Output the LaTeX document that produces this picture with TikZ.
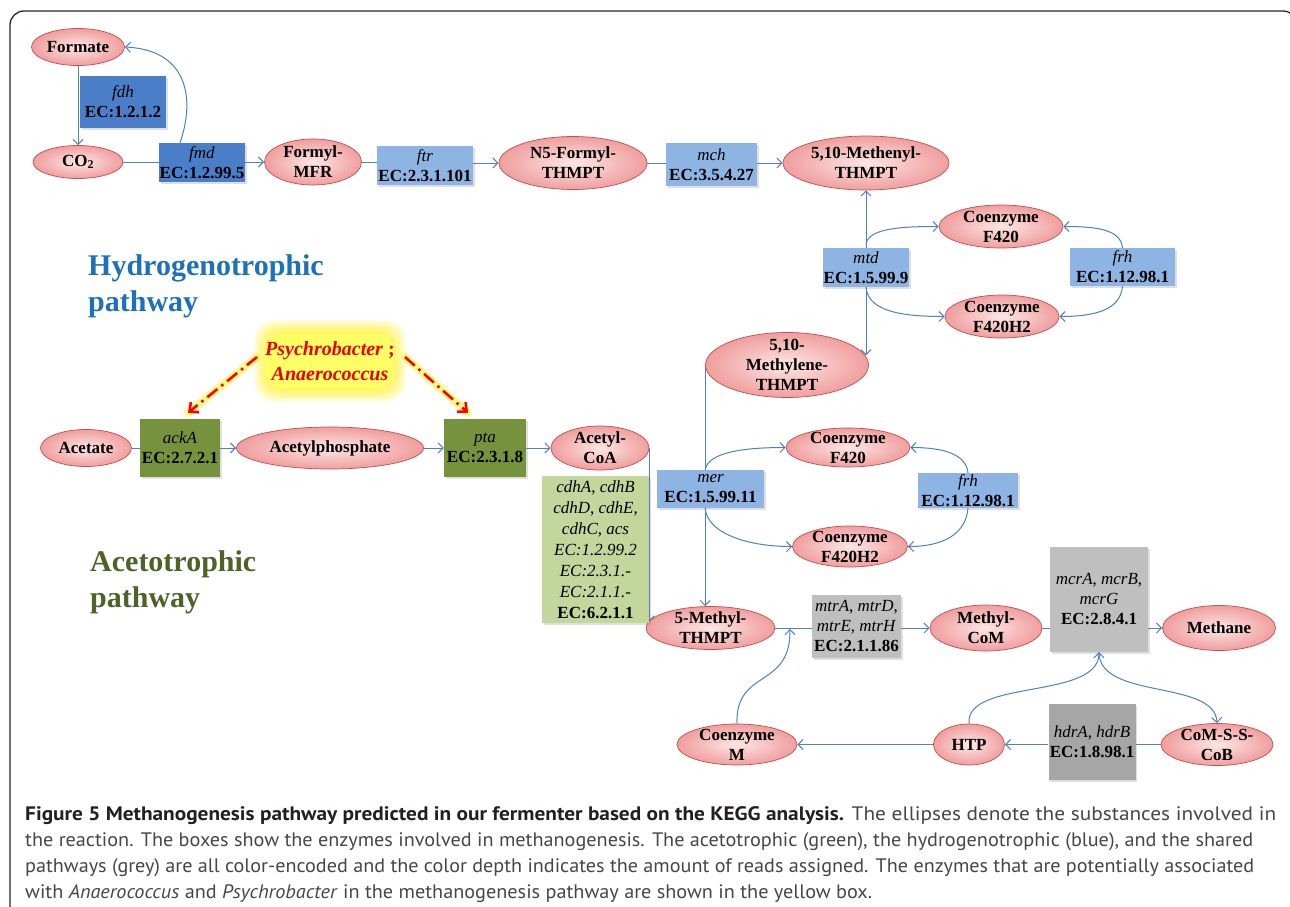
\documentclass[tikz,border=0pt]{standalone}
\usepackage{fontspec}
\setmainfont{Liberation Serif}
\newfontfamily\capfont{PT Sans}
\usetikzlibrary{arrows.meta,calc,shapes.geometric,shadows}
\pgfdeclarelayer{bg}
\pgfsetlayers{bg,main}
\definecolor{lblue}{RGB}{79,129,189}
\definecolor{dblue}{RGB}{74,126,200}
\definecolor{mblue}{RGB}{141,180,226}
\definecolor{dgreen}{RGB}{118,146,60}
\definecolor{lgreen}{RGB}{195,214,155}
\definecolor{lgray}{RGB}{191,191,191}
\definecolor{mgray}{RGB}{166,166,166}
\definecolor{pinkin}{RGB}{253,230,230}
\definecolor{pinkout}{RGB}{240,158,158}
\definecolor{pinkbd}{RGB}{192,80,77}
\definecolor{hydblue}{RGB}{28,113,184}
\definecolor{acegreen}{RGB}{79,98,40}
\definecolor{capgray}{RGB}{70,70,70}
\definecolor{capbold}{RGB}{35,31,32}
\definecolor{yfill}{RGB}{255,255,102}
\newcommand\subfont{\fontsize{17}{20}\selectfont\bfseries}
\newcommand\enzfont{\fontsize{17}{20}\selectfont}
\newcommand\subst[5]{\node[sub,minimum width=#3pt,minimum height=#4pt] (#1) at (#2) {};
  \node[subtxt] (#1-t) at (#1) {#5};}
\newcommand\enzyme[6]{\node[enz,fill=#5,minimum width=#3pt,minimum height=#4pt] (#1) at (#2) {#6};}
\newcommand\capline[4]{\node[anchor=base west,inner sep=0pt,text=capgray] (#1) at (25,#2)
  {\resizebox{#3pt}{\height}{\capfont\fontsize{19.5}{24}\selectfont #4}};}
\begin{document}
\begin{tikzpicture}[x=1pt,y=-1pt,
  sub/.style={ellipse,draw=pinkbd,line width=0.7pt,inner color=pinkin,outer color=pinkout,inner sep=0pt},
  subtxt/.style={align=center,font=\subfont,inner sep=0pt},
  enz/.style={rectangle,inner sep=0pt,align=center,font=\enzfont,
    drop shadow={opacity=0.25,shadow xshift=1.5pt,shadow yshift=-1.5pt}},
  conn/.style={draw=lblue,line width=1pt},
  arr/.style={conn,-{Straight Barb[length=5pt,width=10pt]}},
  arrtwo/.style={conn,{Straight Barb[length=5pt,width=10pt]}-{Straight Barb[length=5pt,width=10pt]}},
  yglow/.style={draw=yellow,line width=8pt,opacity=0.45,line cap=round},
  redarr/.style={draw=red,line width=2.6pt,dash pattern=on 13pt off 5pt on 2.5pt off 5pt,
    -{Straight Barb[length=7pt,width=13pt]}},
  pathlbl/.style={anchor=base west,inner sep=0pt,font=\fontsize{30}{36}\selectfont\bfseries}]
\useasboundingbox (0,0) rectangle (1290,907);
\begin{pgfonlayer}{bg}
\fill[white] (0,0) rectangle (1290,907);
\end{pgfonlayer}
\begin{scope}
\clip (0,0) rectangle (1290,907);
\draw[black!85,line width=1.3pt,rounded corners=14pt] (10,11) rectangle (1297,960);
\end{scope}

% substances
\subst{formate}{78,47}{93}{37}{Formate}
\subst{co2}{78,162}{90}{33}{CO\textsubscript{2}}
\subst{fmfr}{313,162}{97}{46}{Formyl-\\MFR}
\subst{n5}{573,163}{148}{53}{N5-Formyl-\\THMPT}
\subst{methenyl}{866,163}{166}{54}{5,10-Methenyl-\\THMPT}
\subst{f420a}{1001,226.5}{124}{43}{Coenzyme\\F420}
\subst{f420h2a}{1002,316.5}{114}{43}{Coenzyme\\F420H2}
\subst{methylene}{787,365}{163}{65}{5,10-\\Methylene-\\THMPT}
\subst{acetate}{86,448}{91}{37}{Acetate}
\subst{acetylp}{330,448}{187}{42}{Acetylphosphate}
\subst{acoa}{600,448}{98}{44}{Acetyl-\\CoA}
\subst{f420b}{848,447.5}{124}{39}{Coenzyme\\F420}
\subst{f420h2b}{850,546.5}{115}{41}{Coenzyme\\F420H2}
\subst{meth5}{710.5,628}{129}{43}{5-Methyl-\\THMPT}
\subst{methylcom}{986,628}{112}{46}{Methyl-\\CoM}
\subst{methane}{1219,628}{113}{45}{Methane}
\subst{coM}{737,744.5}{120}{41}{Coenzyme\\M}
\subst{htp}{969,744.5}{71}{41}{HTP}
\subst{comssc}{1217,744.5}{112}{42}{CoM-S-S-\\CoB}

% enzymes
\enzyme{fdh}{123,102}{86}{52}{dblue}{\textit{fdh}\\\textbf{EC:1.2.1.2}}
\enzyme{fmd}{202,162.5}{86}{39}{dblue}{\textit{fmd}\\\textbf{EC:1.2.99.5}}
\enzyme{ftr}{425,165.5}{96}{39}{mblue}{\textit{ftr}\\\textbf{EC:2.3.1.101}}
\enzyme{mch}{711.5,164.5}{91}{43}{mblue}{\textit{mch}\\\textbf{EC:3.5.4.27}}
\enzyme{mtd}{866,267.5}{86}{39}{mblue}{\textit{mtd}\\\textbf{EC:1.5.99.9}}
\enzyme{frhone}{1122.5,267}{105}{38}{mblue}{\textit{frh}\\\textbf{EC:1.12.98.1}}
\enzyme{mer}{710.5,489}{107}{38}{mblue}{\textit{mer}\\\textbf{EC:1.5.99.11}}
\enzyme{frhtwo}{968,490.5}{100}{35}{mblue}{\textit{frh}\\\textbf{EC:1.12.98.1}}
\enzyme{ackA}{180,448}{80}{58}{dgreen}{\textit{ackA}\\\textbf{EC:2.7.2.1}}
\enzyme{pta}{485,448}{82}{58}{dgreen}{\textit{pta}\\\textbf{EC:2.3.1.8}}
\node[enz,fill=lgreen,minimum width=107pt,minimum height=147pt,font=\fontsize{17}{21}\selectfont] (cdh) at (595.5,549.5)
  {\textit{cdhA}, \textit{cdhB}\\\textit{cdhD}, \textit{cdhE},\\\textit{cdhC}, \textit{acs}\\\textit{EC:1.2.99.2}\\\textit{EC:2.3.1.-}\\\textit{EC:2.1.1.-}\\\textbf{EC:6.2.1.1}};
\enzyme{mtr}{856.5,626.5}{89}{63}{lgray}{\textit{mtrA}, \textit{mtrD},\\\textit{mtrE}, \textit{mtrH}\\\textbf{EC:2.1.1.86}}
\enzyme{mcr}{1099,599.5}{98}{105}{lgray}{\textit{mcrA}, \textit{mcrB},\\\textit{mcrG}\\\textbf{EC:2.8.4.1}}
\enzyme{hdr}{1092,742}{87}{76}{mgray}{\textit{hdrA}, \textit{hdrB}\\\textbf{EC:1.8.98.1}}

% pathway labels
\node[pathlbl,text=hydblue] (hyd1) at (88,275) {Hydrogenotrophic};
\node[pathlbl,text=hydblue] (hyd2) at (88,311) {pathway};
\node[pathlbl,text=acegreen] (ace1) at (90,571) {Acetotrophic};
\node[pathlbl,text=acegreen] (ace2) at (90,607) {pathway};

% yellow box
\coordinate (yb) at (330,361);
\begin{pgfonlayer}{bg}
\foreach \i in {1,...,10}{
  \fill[yellow,opacity=0.09,rounded corners=20pt] ($(yb)+(-62-1.4*\i,-27-1.4*\i)$) rectangle ($(yb)+(62+1.4*\i,27+1.4*\i)$);}
\end{pgfonlayer}
\node[fill=yfill,rounded corners=18pt,minimum width=124pt,minimum height=54pt,inner sep=0pt,align=center,
  text=red!92!black,font=\fontsize{20}{25}\selectfont\bfseries] (ybox) at (yb)
  {\textit{Psychrobacter} ;\\\textit{Anaerococcus}};
\draw[yglow] ($(ybox.west)+(-8,-4)$) -- ($(ackA.north)+(8,-6)$);
\draw[redarr] ($(ybox.west)+(-8,-4)$) -- ($(ackA.north)+(8,-6)$);
\draw[yglow] ($(ybox.east)+(10,-4)$) -- ($(pta.north)+(-17,-6)$);
\draw[redarr] ($(ybox.east)+(10,-4)$) -- ($(pta.north)+(-17,-6)$);

% connectors
\begin{pgfonlayer}{bg}
\draw[arr] (formate.south) -- (co2.north);
\draw[conn] (co2.east) -- (co2.east -| fmd.west);
\draw[arr] (fmd.east |- fmfr.west) -- (fmfr.west);
\draw[arr] ($(fmd.north)+(-22,0)$) .. controls ($(fmd.north)+(-7,-43)$) and ($(formate.east)+(64,3)$) .. (formate.east);
\draw[conn] (fmfr.east) -- (fmfr.east -| ftr.west);
\draw[arr] (ftr.east |- n5.west) -- (n5.west);
\draw[conn] (n5.east) -- (n5.east -| mch.west);
\draw[arr] (mch.east |- methenyl.west) -- (methenyl.west);
\draw[arrtwo] (methenyl.south) -- (methenyl.south |- methylene.7);
\draw[arr] ($(mtd.north)+(0,-4)$) .. controls ($(mtd.north)+(3,-20)$) and ($(f420a.west)+(-35,0)$) .. (f420a.west);
\draw[arr] (mtd.south) .. controls ($(mtd.south)+(2,25)$) and ($(f420h2a.west)+(-40,0)$) .. (f420h2a.west);
\draw[arr] (frhone.north) .. controls ($(frhone.north)+(-2,-18)$) and ($(f420a.east)+(35,0)$) .. (f420a.east);
\draw[arr] (frhone.south) .. controls ($(frhone.south)+(-2,24)$) and ($(f420h2a.east)+(35,0)$) .. (f420h2a.east);
\draw[arr] (methylene.west) -- (methylene.west |- meth5.north);
\draw[arr] (methylene.west |- mer.north) .. controls ($(methylene.west |- mer.north)+(3,-18)$) and ($(f420b.west)+(-40,0)$) .. (f420b.west);
\draw[arr] (methylene.west |- mer.south) .. controls ($(methylene.west |- mer.south)+(2,25)$) and ($(f420h2b.west)+(-45,0)$) .. (f420h2b.west);
\draw[arr] (frhtwo.north) .. controls ($(frhtwo.north)+(-2,-18)$) and ($(f420b.east)+(35,0)$) .. (f420b.east);
\draw[arr] (frhtwo.south) .. controls ($(frhtwo.south)+(-2,24)$) and ($(f420h2b.east)+(38,0)$) .. (f420h2b.east);
\draw[conn] (acetate.east) -- (acetate.east -| ackA.west);
\draw[arr] (ackA.east) -- (ackA.east -| acetylp.west);
\draw[arr] (acetylp.east) -- (acetylp.east -| pta.west);
\draw[arr] (pta.east) -- (pta.east -| acoa.west);
\draw[arr] (acoa.east) -- (acoa.east |- meth5.174);
\draw[conn] (meth5.east) -- (meth5.east -| mtr.west);
\draw[arr] (mtr.east |- methylcom.west) -- (methylcom.west);
\coordinate (jn) at ($(meth5.east)!0.4!(meth5.east -| mtr.west)+(0,1)$);
\draw[arr] (coM.north) .. controls ($(coM.north)+(-2,-55)$) and ($(jn)+(1,60)$) .. (jn);
\draw[conn] (methylcom.east) -- (methylcom.east -| mcr.west);
\draw[arr] (mcr.east |- methane.west) -- (methane.west);
\draw[arr] (htp.north) .. controls ($(htp.north)+(-4,-45)$) and ($(mcr.south)+(0,48)$) .. (mcr.south);
\draw[arr] (mcr.south) .. controls ($(mcr.south)+(0,48)$) and ($(comssc.north)+(-2,-44)$) .. (comssc.north);
\draw[conn] (comssc.west) -- (comssc.west -| hdr.east);
\draw[arr] (hdr.west |- htp.east) -- (htp.east);
\draw[arr] (htp.west) -- (coM.east);
\end{pgfonlayer}

% caption
\capline{capA}{820}{1251}{\textbf{\color{capbold}Figure 5 Methanogenesis pathway predicted in our fermenter based on the KEGG analysis.} The ellipses denote the substances involved in}
\capline{capB}{846.5}{1228}{the reaction. The boxes show the enzymes involved in methanogenesis. The acetotrophic (green), the hydrogenotrophic (blue), and the shared}
\capline{capC}{872.5}{1229}{pathways (grey) are all color-encoded and the color depth indicates the amount of reads assigned. The enzymes that are potentially associated}
\capline{capD}{898.5}{847}{with \textit{Anaerococcus} and \textit{Psychrobacter} in the methanogenesis pathway are shown in the yellow box.}
\end{tikzpicture}
\end{document}
